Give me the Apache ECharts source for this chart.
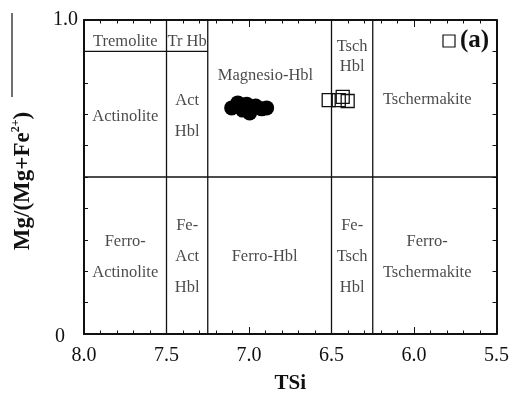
<!DOCTYPE html>
<html><head><meta charset="utf-8">
<script src="https://cdn.jsdelivr.net/npm/echarts@6/dist/echarts.min.js"></script>
<style>html,body{margin:0;padding:0;background:#fff}#c{width:512px;height:399px}</style>
</head><body><div id="c"></div>
<script>
// Data
const circleX = [7.105, 7.068, 7.014, 6.959, 6.996, 6.923, 6.893, 7.038];
const circleY = [0.720, 0.736, 0.732, 0.726, 0.704, 0.717, 0.720, 0.713];
const squareX = [6.517, 6.456, 6.432, 6.402];
const squareY = [0.745, 0.745, 0.755, 0.742];
const xTicks = ['8.0', '7.5', '7.0', '6.5', '6.0', '5.5'];
const yTicks = ['0', '1.0'];
// Field boundaries [x1,y1,x2,y2]
const boundaries = [
  [7.5, 0, 7.5, 1], [7.25, 0, 7.25, 1], [6.5, 0, 6.5, 1], [6.25, 0, 6.25, 1],
  [8.0, 0.5, 5.5, 0.5], [8.0, 0.9, 7.25, 0.9]
];
const regionNames = ['Tremolite', 'Tr Hb', 'Magnesio-Hbl', 'Actinolite', 'Act\nHbl', 'Tschermakite',
  'Ferro-\nActinolite', 'Fe-\nAct\nHbl', 'Ferro-Hbl', 'Fe-\nTsch\nHbl', 'Ferro-\nTschermakite'];
const regionX = [7.75, 7.375, 6.9, 7.75, 7.375, 5.92, 7.75, 7.375, 6.905, 6.375, 5.92];
const regionY = [0.93, 0.93, 0.822, 0.691, 0.694, 0.745, 0.244, 0.245, 0.245, 0.245, 0.244];
const tschName = 'Tsch\nHbl'; const tschX = 6.375; const tschY = 0.882;

const FONT = '"Liberation Serif", "Times New Roman", serif';
const INK = '#111';
const chart = echarts.init(document.getElementById('c'));

const lineSeries = boundaries.map(b => ({
  type: 'line', data: [[b[0], b[1]], [b[2], b[3]]], symbol: 'none', silent: true,
  lineStyle: { color: INK, width: 1.3 }, z: 1, animation: false
}));

const axisCommon = {
  axisLine: { show: true, onZero: false, lineStyle: { color: INK, width: 2 } },
  axisTick: { show: true, inside: true, length: 7, lineStyle: { color: INK, width: 1 } },
  splitLine: { show: false }
};
const yTick = { axisTick: { show: true, inside: true, length: 4, lineStyle: { color: INK, width: 1 } } };

const option = {
  animation: false,
  grid: { left: 84, right: 15, top: 20, bottom: 65 },
  xAxis: [
    Object.assign({
      type: 'value', min: 5.5, max: 8.0, interval: 0.5, inverse: true, position: 'bottom',
      minorTick: { show: true, splitNumber: 5, length: 3.5, lineStyle: { color: INK, width: 1 } },
      axisLabel: { color: INK, fontFamily: FONT, fontSize: 20, margin: 12,
        formatter: v => xTicks[Math.round((8 - v) / 0.5)] },
      name: 'TSi', nameLocation: 'middle', nameGap: 39,
      nameTextStyle: { color: INK, fontFamily: FONT, fontSize: 21, fontWeight: 'bold' }
    }, axisCommon),
    Object.assign({
      type: 'value', min: 5.5, max: 8.0, interval: 0.5, inverse: true, position: 'top',
      minorTick: { show: true, splitNumber: 5, length: 3.5, lineStyle: { color: INK, width: 1 } },
      axisLabel: { show: false }
    }, axisCommon)
  ],
  yAxis: [
    Object.assign({
      type: 'value', min: 0, max: 1, interval: 0.1, position: 'left',
      axisLabel: { color: INK, fontFamily: FONT, fontSize: 20, margin: 6,
        formatter: v => v === 0 ? '{z|' + yTicks[0] + '}' : (v === 1 ? yTicks[1] : ''),
        rich: { z: { fontFamily: FONT, fontSize: 20, color: INK, padding: [6, 13, 0, 0] } } }
    }, axisCommon, yTick),
    Object.assign({
      type: 'value', min: 0, max: 1, interval: 0.1, position: 'right',
      axisLabel: { show: false }
    }, axisCommon, yTick)
  ],
  series: lineSeries.concat([
    {
      type: 'scatter', silent: true, symbolSize: 1, itemStyle: { color: 'rgba(0,0,0,0)' }, z: 2,
      data: regionNames.map((n, i) => ({ name: n, value: [regionX[i], regionY[i]] })),
      label: { show: true, position: 'inside', formatter: p => p.name, color: '#1a1a1a',
        fontFamily: FONT, fontSize: 16.5, lineHeight: 31, align: 'center', verticalAlign: 'middle' }
    },
    {
      type: 'scatter', silent: true, symbolSize: 1, itemStyle: { color: 'rgba(0,0,0,0)' }, z: 2,
      data: [{ name: tschName, value: [tschX, tschY] }],
      label: { show: true, position: 'inside', formatter: p => p.name, color: '#1a1a1a',
        fontFamily: FONT, fontSize: 16.5, lineHeight: 20, align: 'center', verticalAlign: 'middle' }
    },
    {
      type: 'scatter', name: 'circles', symbol: 'circle', symbolSize: 15,
      itemStyle: { color: '#000', opacity: 1 }, z: 5,
      data: circleX.map((x, i) => [x, circleY[i]])
    },
    {
      type: 'scatter', name: 'squares', symbol: 'rect', symbolSize: 13,
      itemStyle: { color: 'rgba(0,0,0,0)', borderColor: '#111', borderWidth: 1.3, opacity: 1 }, z: 6,
      data: squareX.map((x, i) => [x, squareY[i]])
    }
  ]),
  graphic: [
    { type: 'text', x: 23, y: 181, rotation: Math.PI / 2, silent: true,
      style: { text: '{b|Mg/(Mg+Fe}{s|2+}{b|)}', align: 'center', verticalAlign: 'middle',
        rich: { b: { fontFamily: FONT, fontSize: 23, fontWeight: 'bold', fill: INK, lineHeight: 26 },
                s: { fontFamily: FONT, fontSize: 12, fontWeight: 'bold', fill: INK, verticalAlign: 'top', lineHeight: 26, padding: [0, 0, 12, 0] } } } },
    { type: 'line', silent: true, shape: { x1: 12, y1: 13, x2: 12, y2: 97 }, style: { stroke: INK, lineWidth: 1.2 } },
    { type: 'rect', silent: true, shape: { x: 443, y: 35, width: 12, height: 12 }, style: { fill: 'none', stroke: INK, lineWidth: 1.2 } },
    { type: 'text', silent: true, x: 460, y: 41, style: { text: '(a)', fontFamily: FONT, fontSize: 25, fontWeight: 'bold', fill: INK, verticalAlign: 'middle' } }
  ]
};
chart.setOption(option);
</script></body></html>
